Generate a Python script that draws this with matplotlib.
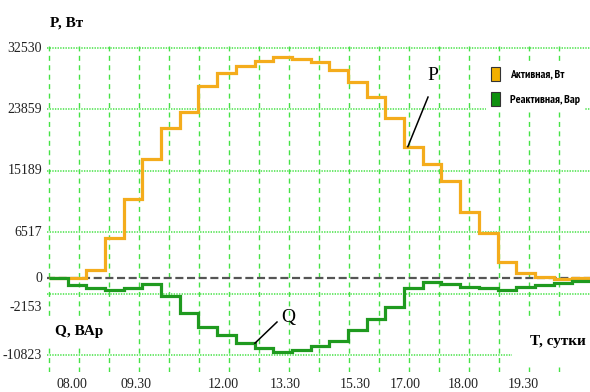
import matplotlib
matplotlib.use("Agg")
import matplotlib.pyplot as plt
import matplotlib.transforms as mtransforms
from matplotlib import font_manager
from matplotlib.patches import Patch
import numpy as np

# half-hour steps of active and reactive power
p_active = [0, 0, 1200, 5700, 11200, 16900, 21200, 23500, 27200, 29000, 30000,
            30700, 31300, 31000, 30600, 29400, 27700, 25600, 22700, 18600, 16200,
            13800, 9400, 6400, 2300, 800, 200, -150, 0]
q_reactive = [0, -1000, -1400, -1700, -1400, -850, -2450, -4950, -6900, -8000, -9150,
              -9800, -10450, -10100, -9500, -8800, -7300, -5750, -4000, -1400, -550,
              -850, -1250, -1400, -1650, -1250, -950, -700, -300]

y_tick_values = [32530, 23859, 15189, 6517, 0, -2153, -10823]
y_grid_values = [32530, 23859, 15189, 6517, -2153, -10823]
time_labels = ['08.00', '09.30', '12.00', '13.30', '15.30', '17.00', '18.00', '19.30']
time_tick_pos = [1.23, 4.65, 9.31, 12.63, 16.37, 19.05, 22.15, 25.36]

legend_labels = ['Активная, Вт', 'Реактивная, Вар']


def pick(*names):
    have = {f.name for f in font_manager.fontManager.ttflist}
    return [n for n in names if n in have] + ['DejaVu Sans']


serif = pick('Liberation Serif')
narrow = pick('PT Sans Narrow', 'Liberation Sans')

plt.rcParams['lines.scale_dashes'] = False

fig = plt.figure(figsize=(5.9, 3.92), dpi=100)
# one step is ~18.7 px wide, the plot starts a hair left of the first grid line
ax = fig.add_axes([47.1 / 590, 20 / 392, 543.9 / 590, 326 / 392])
edges = np.arange(len(p_active) + 1)
ax.set_xlim(-0.1, edges[-1])
ax.set_ylim(-13217, 32530 + 2 * 141.2)
for s in ax.spines.values():
    s.set_visible(False)

grid_green = '#45E245'
# vertical grid every 30 px, horizontal grid on the labelled levels
for gx in np.arange(18) * 30 / 18.69:
    ax.axvline(gx, color=grid_green, lw=1.0, dashes=(3.6, 3.2), zorder=1)
for gy in y_grid_values:
    ax.axhline(gy, color=grid_green, lw=1.1, dashes=(1.0, 0.9), zorder=1)

ax.axhline(0, color='#555555', lw=1.6, dashes=(5.8, 2.6), zorder=2)

ax.stairs(p_active, edges, baseline=None, color='#F4AC1C', lw=2.3, zorder=3)
ax.stairs(q_reactive, edges, baseline=None, color='#1F9A1F', lw=2.3, zorder=4)

# leaders for the curve names
ax.plot([20.28, 19.2], [25600, 18600], color='black', lw=1.1, zorder=5)
ax.text(20.25, 28600, 'P', family=serif, fontsize=14, va='center', ha='left')
ax.plot([12.2, 11.02], [-6160, -9150], color='black', lw=1.1, zorder=5)
ax.text(12.45, -5500, 'Q', family=serif, fontsize=14, va='center', ha='left')

# axis values
ax.set_yticks([])
ylab_tr = mtransforms.blended_transform_factory(fig.transFigure, ax.transData)
for v in y_tick_values:
    tr = ylab_tr
    if v == -2153:
        tr = ylab_tr + mtransforms.ScaledTranslation(0, -0.14, fig.dpi_scale_trans)
    ax.text(42 / 590, v, str(v), transform=tr, ha='right', va='center',
            family=serif, fontsize=10, color='#222222')

ax.set_xticks(time_tick_pos, time_labels)
ax.tick_params(axis='x', length=0, pad=4, labelsize=10, labelcolor='#222222')
for t in ax.get_xticklabels():
    t.set_family(serif)

# axis names
fig.text(50 / 590, 1 - 23 / 392, 'P, Вт', family=serif, fontsize=11,
         fontweight='bold', va='center', ha='left')
fig.text(55 / 590, 1 - 332 / 392, 'Q, ВАр', family=serif, fontsize=11,
         fontweight='bold', va='center', ha='left', zorder=6,
         bbox=dict(boxstyle='square,pad=0.5', fc='white', ec='none'))
fig.text(586 / 590, 1 - 341 / 392, 'T, сутки', family=serif, fontsize=11,
         fontweight='bold', va='center', ha='right', zorder=6,
         bbox=dict(boxstyle='square,pad=1.2', fc='white', ec='none'))

handles = [Patch(facecolor='#F2B000', edgecolor='#333333', lw=0.8),
           Patch(facecolor='#0E900E', edgecolor='#333333', lw=0.8)]
leg = ax.legend(handles, legend_labels, loc='upper left',
                bbox_to_anchor=(486 / 590, 1 - 62 / 392),
                bbox_transform=fig.transFigure, frameon=True, fancybox=False,
                framealpha=1, facecolor='white', edgecolor='none',
                prop=dict(family=narrow, size=8.5, weight='bold'),
                handlelength=0.75, handleheight=1.45, handletextpad=0.9,
                labelspacing=0.95, borderpad=0.4, borderaxespad=0)
leg.set_zorder(6)

fig.savefig('out.png', dpi=100, facecolor='white')
